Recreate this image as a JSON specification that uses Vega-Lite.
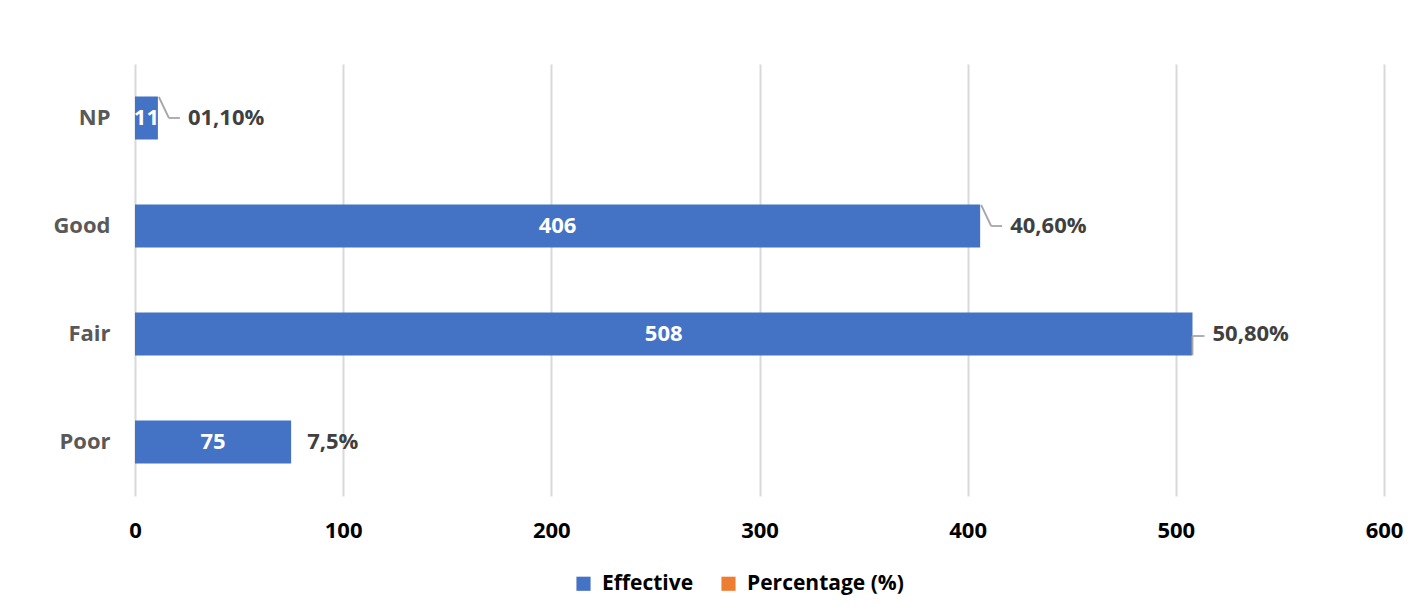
{
  "$schema": "https://vega.github.io/schema/vega-lite/v6.json",
  "width": 1249,
  "height": 432,
  "autosize": {"type": "none"},
  "padding": {"left": 135, "top": 64, "right": 28, "bottom": 118},
  "background": "white",
  "config": {"view": {"stroke": null}, "font": "Open Sans"},
  "data": {
    "values": [
      {"cat": "NP", "value": 11, "pct": "01,10%", "series": "Effective"},
      {"cat": "Good", "value": 406, "pct": "40,60%", "series": "Effective"},
      {"cat": "Fair", "value": 508, "pct": "50,80%", "series": "Effective"},
      {"cat": "Poor", "value": 75, "pct": "7,5%", "series": "Effective"}
    ]
  },
  "encoding": {
    "y": {
      "field": "cat",
      "type": "nominal",
      "sort": ["NP", "Good", "Fair", "Poor"],
      "scale": {"paddingInner": 0.6, "paddingOuter": 0.3},
      "axis": {
        "title": null,
        "domain": false,
        "ticks": false,
        "labelPadding": 25,
        "labelFontSize": 22,
        "labelFontWeight": "bold",
        "labelColor": "#595959",
        "labelFont": "Open Sans"
      }
    }
  },
  "layer": [
    {
      "mark": {"type": "bar"},
      "encoding": {
        "x": {
          "field": "value",
          "type": "quantitative",
          "scale": {"domain": [0, 600], "nice": false},
          "axis": {
            "title": null,
            "values": [0, 100, 200, 300, 400, 500, 600],
            "grid": true,
            "gridColor": "#d9d9d9",
            "gridWidth": 2,
            "domain": false,
            "ticks": false,
            "labelFlush": false,
            "labelOverlap": false,
            "labelPadding": 24,
            "labelFontSize": 22,
            "labelFontWeight": "bold",
            "labelColor": "#000000",
            "labelFont": "Open Sans"
          }
        },
        "color": {
          "field": "series",
          "type": "nominal",
          "scale": {"domain": ["Effective", "Percentage (%)"], "range": ["#4472C4", "#ED7D31"]},
          "legend": {
            "title": null,
            "orient": "none",
            "legendX": 438,
            "legendY": 509,
            "direction": "horizontal",
            "symbolType": "square",
            "symbolSize": 200,
            "symbolStrokeWidth": 0,
            "symbolOpacity": 1,
            "labelFontSize": 21,
            "labelFontWeight": "bold",
            "labelColor": "#000000",
            "labelFont": "Open Sans",
            "labelOffset": 8,
            "columnPadding": 24
          }
        }
      }
    },
    {
      "mark": {"type": "text", "color": "white", "fontWeight": "bold", "fontSize": 22, "font": "Open Sans", "baseline": "middle", "align": "center"},
      "encoding": {
        "x": {"field": "value", "type": "quantitative", "stack": "zero", "bandPosition": 0.5},
        "text": {"field": "value", "type": "quantitative"}
      }
    },
    {
      "transform": [{"filter": "datum.cat == 'NP' || datum.cat == 'Good'"}],
      "mark": {"type": "rule", "color": "#a6a6a6", "strokeWidth": 1.8, "xOffset": 1, "x2Offset": 11, "yOffset": -21, "y2Offset": 0},
      "encoding": {
        "x": {"field": "value", "type": "quantitative"},
        "x2": {"field": "value"},
        "y2": {"field": "cat"}
      }
    },
    {
      "transform": [{"filter": "datum.cat == 'NP' || datum.cat == 'Good'"}],
      "mark": {"type": "rule", "color": "#a6a6a6", "strokeWidth": 1.8, "xOffset": 11, "x2Offset": 22},
      "encoding": {
        "x": {"field": "value", "type": "quantitative"},
        "x2": {"field": "value"}
      }
    },
    {
      "transform": [{"filter": "datum.cat == 'Fair'"}],
      "mark": {"type": "rule", "color": "#a6a6a6", "strokeWidth": 1.8, "xOffset": 0, "x2Offset": 0, "yOffset": 2, "y2Offset": 21},
      "encoding": {
        "x": {"field": "value", "type": "quantitative"},
        "x2": {"field": "value"},
        "y2": {"field": "cat"}
      }
    },
    {
      "transform": [{"filter": "datum.cat == 'Fair'"}],
      "mark": {"type": "rule", "color": "#a6a6a6", "strokeWidth": 1.8, "xOffset": 0, "x2Offset": 12, "yOffset": 2, "y2Offset": 2},
      "encoding": {
        "x": {"field": "value", "type": "quantitative"},
        "x2": {"field": "value"},
        "y2": {"field": "cat"}
      }
    },
    {
      "transform": [{"filter": "datum.cat == 'NP' || datum.cat == 'Good'"}],
      "mark": {"type": "text", "color": "#404040", "fontWeight": "bold", "fontSize": 22, "font": "Open Sans", "align": "left", "baseline": "middle", "dx": 30},
      "encoding": {
        "x": {"field": "value", "type": "quantitative"},
        "text": {"field": "pct"}
      }
    },
    {
      "transform": [{"filter": "datum.cat == 'Fair'"}],
      "mark": {"type": "text", "color": "#404040", "fontWeight": "bold", "fontSize": 22, "font": "Open Sans", "align": "left", "baseline": "middle", "dx": 20},
      "encoding": {
        "x": {"field": "value", "type": "quantitative"},
        "text": {"field": "pct"}
      }
    },
    {
      "transform": [{"filter": "datum.cat == 'Poor'"}],
      "mark": {"type": "text", "color": "#404040", "fontWeight": "bold", "fontSize": 22, "font": "Open Sans", "align": "left", "baseline": "middle", "dx": 16},
      "encoding": {
        "x": {"field": "value", "type": "quantitative"},
        "text": {"field": "pct"}
      }
    }
  ]
}
